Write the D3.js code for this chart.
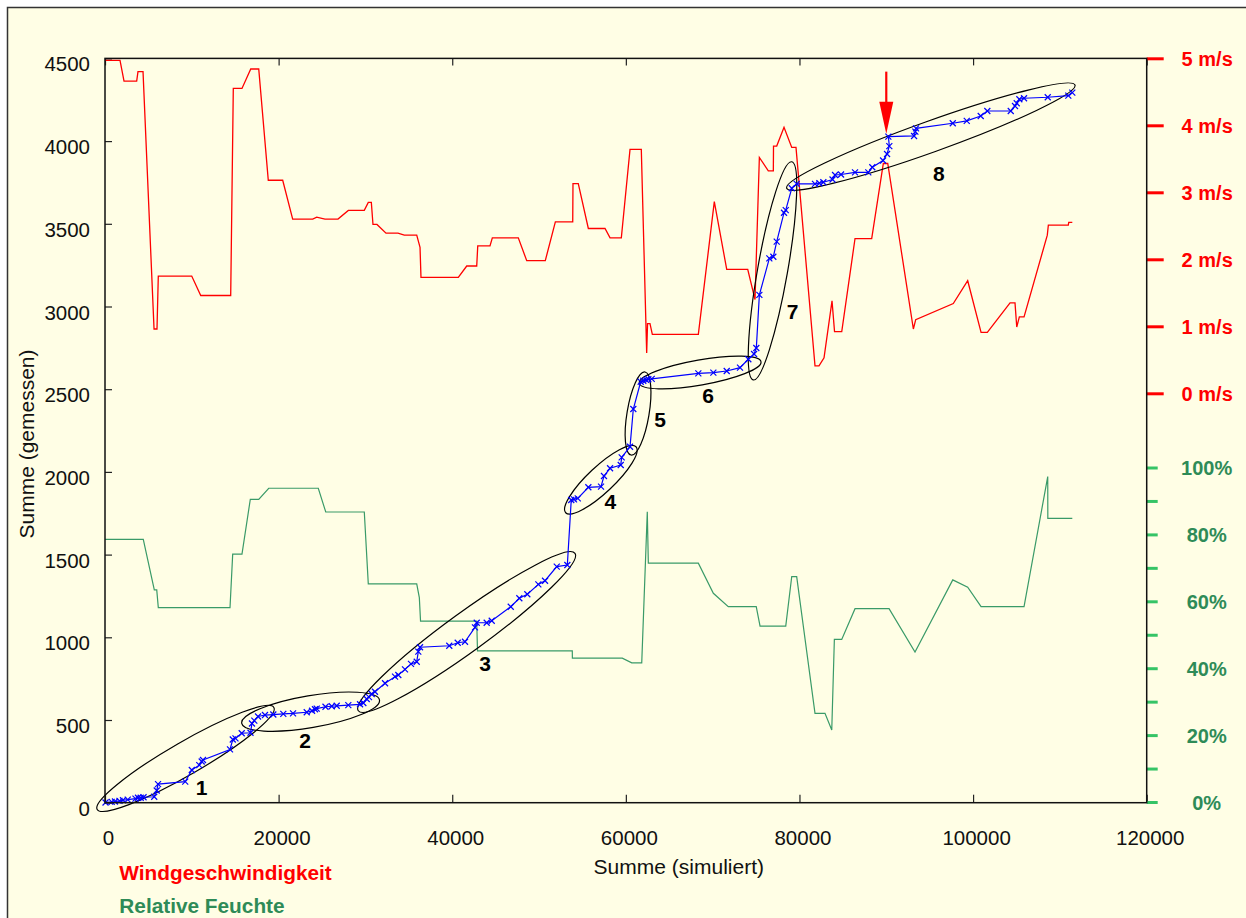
<!DOCTYPE html>
<html>
<head>
<meta charset="utf-8">
<script src="https://cdn.jsdelivr.net/npm/d3@7"></script>
<style>
  html, body { margin: 0; padding: 0; background: #ffffff; }
  svg { display: block; }
  text { font-family: "Liberation Sans", Arial, Helvetica, sans-serif; }
</style>
</head>
<body>
<svg id="chart" width="1246" height="918"></svg>
<script>
// ---- Wind speed (m/s) over the simulated cumulative sum ----
const windSum = [0, 1730, 2190, 3650, 3800, 4380, 5650, 5990, 6140, 9990, 11030, 14480, 14780, 15780, 16790, 17710,
  18810, 20470, 21620, 23930, 24390, 25340, 26840, 28030, 29870, 30330, 30680, 30870, 31330, 32370, 33750, 34480,
  35910, 36290, 36400, 40700, 41670, 42820, 42940, 44350, 44620, 47610, 48580, 50720, 51880, 53880, 53910, 54520,
  55680, 57600, 58180, 59480, 60480, 61780, 62400, 62500, 62780, 63050, 68350, 70190, 71620, 74040, 74880, 75380,
  76410, 76990, 77010, 77380, 78220, 79110, 79600, 81790, 82250, 82830, 83750, 84040, 84870, 86400, 88320, 89660,
  90170, 93120, 93390, 97720, 99380, 100920, 101640, 104260, 104830, 105030, 105330, 105870, 108550, 108670,
  110970, 111020, 111430];
const windSpeed = [4.97, 4.97, 4.66, 4.66, 4.80, 4.80, 0.96, 0.96, 1.75, 1.75, 1.46, 1.46, 4.55, 4.55, 4.84, 4.84,
  3.18, 3.18, 2.60, 2.60, 2.63, 2.60, 2.60, 2.73, 2.73, 2.85, 2.85, 2.52, 2.52, 2.39, 2.39, 2.36,
  2.36, 2.18, 1.73, 1.73, 1.90, 1.90, 2.20, 2.20, 2.32, 2.32, 1.98, 1.98, 2.56, 2.56, 3.13, 3.13,
  2.46, 2.46, 2.32, 2.32, 3.64, 3.64, 0.60, 1.04, 1.04, 0.88, 0.88, 2.86, 1.85, 1.85, 1.40, 3.52,
  3.32, 3.32, 3.69, 3.69, 3.97, 3.67, 3.67, 0.41, 0.41, 0.53, 1.38, 0.92, 0.92, 2.31, 2.31, 3.43,
  3.43, 0.96, 1.10, 1.34, 1.68, 0.91, 0.91, 1.35, 1.35, 0.99, 1.14, 1.14, 2.36, 2.51,
  2.51, 2.55, 2.55];

// ---- Relative humidity (%) over the simulated cumulative sum ----
const humSum = [0, 4410, 5680, 5960, 6140, 14400, 14710, 15780, 16740, 17710, 18860, 24570, 25430, 29870, 30330,
  35910, 36210, 36350, 42820, 42910, 53830, 53840, 59590, 60680, 61830, 62470, 62590, 68350, 70080, 71800, 75020,
  75460, 78420, 79110, 79680, 81790, 82940, 83720, 84020, 84870, 86400, 90320, 93310, 97660, 99380, 100920,
  105870, 108600, 108610, 111430];
const humidity = [78.5, 78.5, 63.4, 63.4, 58.1, 58.1, 74.1, 74.1, 90.5, 90.5, 93.8, 93.8, 86.7, 86.7, 65.2,
  65.2, 61.1, 54.1, 54.1, 45.2, 45.2, 43.0, 43.0, 41.6, 41.6, 86.8, 71.4, 71.4, 62.4, 58.4, 58.4,
  52.6, 52.6, 67.4, 67.4, 26.5, 26.5, 21.5, 48.6, 48.6, 57.8, 57.8, 44.8, 66.4, 64.2, 58.4,
  58.4, 97.3, 84.8, 84.8];

// ---- Simulated vs. measured cumulative sums ----
const simSum = [60, 770, 1150, 1670, 2070, 2620, 3510, 3800, 4110, 4440,
  5670, 5960, 6110, 9240, 10000, 10860, 11140, 11290, 14400, 14720,
  15030, 15750, 16760, 16930, 17200, 17630, 18430, 19390, 20540, 21660,
  23240, 23850, 24190, 24390, 25400, 26120, 26690, 28030, 29380, 29760,
  30150, 30410, 30720, 31100, 32260, 33410, 33790, 34560, 35250, 35910,
  36090, 36290, 39660, 40630, 41470, 42620, 42820, 43970, 44550, 46740,
  47730, 48650, 49920, 50690, 52040, 53260, 53710, 54030, 54460, 55680,
  57140, 57480, 58180, 59410, 59520, 60480, 60860, 61710, 62010, 62320,
  62590, 62980, 68350, 70080, 71620, 73150, 74110, 74770, 75030, 75380,
  76530, 76990, 77380, 78220, 78420, 79110, 79680, 81790, 82290, 82750,
  83810, 84100, 84790, 86400, 87930, 88390, 89630, 90090, 90350, 90240,
  93200, 93350, 93430, 97660, 99270, 100880, 101640, 104340, 104830, 105030,
  105330, 105870, 108600, 110970, 111430];
const measSum = [1, 5, 7, 11, 15, 19, 25, 30, 30, 33,
  36, 74, 112, 127, 198, 227, 249, 258, 322, 382,
  389, 420, 423, 479, 496, 521, 530, 533, 537, 540,
  547, 556, 565, 569, 580, 583, 586, 590, 595, 603,
  627, 638, 657, 671, 722, 762, 772, 806, 839, 852,
  913, 940, 949, 967, 973, 1060, 1088, 1088, 1100, 1185,
  1236, 1260, 1320, 1342, 1427, 1437, 1830, 1834, 1840, 1907,
  1911, 1975, 2022, 2042, 2088, 2152, 2380, 2545, 2551, 2556,
  2560, 2562, 2596, 2600, 2610, 2630, 2681, 2713, 2749, 3070,
  3291, 3301, 3392, 3567, 3583, 3715, 3741, 3741, 3745, 3751,
  3768, 3795, 3798, 3811, 3811, 3842, 3883, 3922, 3970, 4027,
  4031, 4057, 4077, 4108, 4122, 4152, 4182, 4182, 4212, 4229,
  4253, 4259, 4265, 4275, 4293];

// ---- Numbered phases: major-axis end points (simulated, measured) and label anchors ----
const phaseLabels = ["1", "2", "3", "4", "5", "6", "7", "8"];
const phaseStart = [[-900, -41], [15750, 480], [29180, 556], [53070, 1753], [60600, 2102], [61550, 2536], [74680, 2556], [78530, 3715]];
const phaseEnd = [[19450, 576], [31620, 621], [54140, 1508], [61170, 2152], [62210, 2604], [75570, 2666], [79110, 3875], [111740, 4339]];
const phaseLabelAt = [[11140, 92], [23040, 379], [43780, 840], [58200, 1824], [63940, 2320], [69470, 2463], [79200, 2971], [96050, 3805]];

// ---- Highlighted moment ----
const markSim = 90000;
const markFrom = 4420;
const markTo = 4045;

// ---- Axis ticks ----
const xTicks = [0, 20000, 40000, 60000, 80000, 100000, 120000];
const yTicks = [0, 500, 1000, 1500, 2000, 2500, 3000, 3500, 4000, 4500];
const windTicks = [0, 1, 2, 3, 4, 5];
const humTicks = [0, 10, 20, 30, 40, 50, 60, 70, 80, 90, 100];
const humLabelTicks = [0, 20, 40, 60, 80, 100];

// ---- Layout & style ----
const W = 1246, H = 918;
const plot = { left: 105, top: 58.4, right: 1146.7, bottom: 802.7 };
const phaseHalfWidth = [16.5, 16, 19.5, 13, 11, 12.5, 15, 15.5];
const RED = "#ff0000";
const GREEN_LINE = "#3a9a68";
const GREEN_TICK = "#35c466";
const GREEN_TEXT = "#2e8b57";
const BLUE = "#0000ff";
const INK = "#111111";

const svg = d3.select("#chart");

// page panel
svg.append("rect")
  .attr("x", 7.5).attr("y", 7.5)
  .attr("width", W).attr("height", H)
  .attr("fill", "#fffee5")
  .attr("stroke", "#333333").attr("stroke-width", 1.5);

const x = d3.scaleLinear().domain([0, 120000]).range([plot.left, plot.right]);
const y = d3.scaleLinear().domain([0, 4500]).range([plot.bottom, plot.top]);
const yWind = d3.scaleLinear().domain([0, 5]).range([393.3, 58.3]);
const yHum = d3.scaleLinear().domain([0, 100]).range([802, 467.5]);

// ---- axes ----
const gLeft = svg.append("g")
  .attr("transform", `translate(${plot.left},0)`)
  .call(d3.axisLeft(y).tickValues(yTicks).tickSize(-7).tickSizeOuter(0).tickPadding(15).tickFormat(d3.format("d")));
gLeft.select(".domain").remove();
gLeft.selectAll("line").attr("stroke", "#222").attr("stroke-width", 1.2);
gLeft.selectAll("text").attr("y", 6).attr("fill", INK).style("font-size", "20.5px");

const gBottom = svg.append("g")
  .attr("transform", `translate(0,${plot.bottom})`)
  .call(d3.axisBottom(x).tickValues(xTicks).tickSize(-8).tickSizeOuter(0).tickPadding(27.7).tickFormat(d3.format("d")));
gBottom.select(".domain").remove();
gBottom.selectAll("line").attr("stroke", "#222").attr("stroke-width", 1.2);
gBottom.selectAll("text").attr("x", 3).attr("fill", INK).style("font-size", "20.5px");

const gTop = svg.append("g")
  .attr("transform", `translate(0,${plot.top})`)
  .call(d3.axisTop(x).tickValues(xTicks).tickSize(-7).tickSizeOuter(0).tickFormat(""));
gTop.select(".domain").remove();
gTop.selectAll("line").attr("stroke", "#222").attr("stroke-width", 1.2);

const gWind = svg.append("g")
  .attr("transform", `translate(${plot.right},0)`)
  .call(d3.axisRight(yWind).tickValues(windTicks).tickSize(17).tickSizeOuter(0).tickFormat(d => `${d} m/s`));
gWind.select(".domain").remove();
gWind.selectAll("line").attr("stroke", RED).attr("stroke-width", 3);
gWind.selectAll("text")
  .attr("x", 60.5).attr("dy", "0.36em").attr("text-anchor", "middle")
  .attr("fill", RED).style("font-size", "20px").style("font-weight", "bold");

const gHum = svg.append("g")
  .attr("transform", `translate(${plot.right},0)`)
  .call(d3.axisRight(yHum).tickValues(humTicks).tickSize(11).tickSizeOuter(0)
    .tickFormat(d => humLabelTicks.includes(d) ? `${d}%` : ""));
gHum.select(".domain").remove();
gHum.selectAll("line").attr("stroke", GREEN_TICK).attr("stroke-width", 3);
gHum.selectAll("text")
  .attr("x", 60).attr("dy", "0.36em").attr("text-anchor", "middle")
  .attr("fill", GREEN_TEXT).style("font-size", "20px").style("font-weight", "bold");

// ---- humidity and wind traces ----
const humLine = d3.line().x(d => x(d[0])).y(d => yHum(d[1]));
svg.append("path")
  .datum(humSum.map((s, i) => [s, humidity[i]]))
  .attr("d", humLine)
  .attr("fill", "none").attr("stroke", GREEN_LINE).attr("stroke-width", 1.2);

const windLine = d3.line().x(d => x(d[0])).y(d => yWind(d[1]));
svg.append("path")
  .datum(windSum.map((s, i) => [s, windSpeed[i]]))
  .attr("d", windLine)
  .attr("fill", "none").attr("stroke", RED).attr("stroke-width", 1.3);

// ---- phase ellipses ----
const phases = phaseLabels.map((label, i) => {
  const x0 = x(phaseStart[i][0]), y0 = y(phaseStart[i][1]);
  const x1 = x(phaseEnd[i][0]), y1 = y(phaseEnd[i][1]);
  return {
    label,
    cx: (x0 + x1) / 2, cy: (y0 + y1) / 2,
    rx: Math.hypot(x1 - x0, y1 - y0) / 2,
    ry: phaseHalfWidth[i],
    angle: Math.atan2(y1 - y0, x1 - x0) * 180 / Math.PI,
    lx: x(phaseLabelAt[i][0]), ly: y(phaseLabelAt[i][1])
  };
});
svg.append("g").selectAll("ellipse")
  .data(phases).join("ellipse")
  .attr("transform", d => `translate(${d.cx},${d.cy}) rotate(${d.angle})`)
  .attr("rx", d => d.rx).attr("ry", d => d.ry)
  .attr("fill", "none").attr("stroke", "#000").attr("stroke-width", 1.2);

// ---- simulated vs measured ----
const sumPts = simSum.map((s, i) => [s, measSum[i]]);
svg.append("path")
  .datum(sumPts)
  .attr("d", d3.line().x(d => x(d[0])).y(d => y(d[1])))
  .attr("fill", "none").attr("stroke", BLUE).attr("stroke-width", 1.2);
svg.append("g").selectAll("path")
  .data(sumPts).join("path")
  .attr("transform", d => `translate(${x(d[0])},${y(d[1])})`)
  .attr("d", "M-3,-3L3,3M-3,3L3,-3")
  .attr("stroke", BLUE).attr("stroke-width", 1.2).attr("fill", "none");

// phase numbers
svg.append("g").selectAll("text")
  .data(phases).join("text")
  .attr("x", d => d.lx).attr("y", d => d.ly).attr("dy", "0.36em")
  .attr("text-anchor", "middle")
  .attr("fill", "#000").style("font-size", "21px").style("font-weight", "bold")
  .text(d => d.label);

// ---- arrow on the highlighted moment ----
const ax = x(markSim), aTop = y(markFrom), aTip = y(markTo);
const headLen = 32, headHalf = 7;
svg.append("line")
  .attr("x1", ax).attr("x2", ax).attr("y1", aTop).attr("y2", aTip - headLen + 2)
  .attr("stroke", RED).attr("stroke-width", 2.2);
svg.append("path")
  .attr("d", `M${ax - headHalf},${aTip - headLen}L${ax + headHalf},${aTip - headLen}L${ax},${aTip}Z`)
  .attr("fill", RED);

// ---- plot frame ----
svg.append("rect")
  .attr("x", plot.left).attr("y", plot.top)
  .attr("width", plot.right - plot.left).attr("height", plot.bottom - plot.top)
  .attr("fill", "none").attr("stroke", "#111").attr("stroke-width", 1.5);

// ---- axis titles ----
svg.append("text")
  .attr("x", 678.8).attr("y", 874)
  .attr("text-anchor", "middle").attr("fill", INK).style("font-size", "21px")
  .text("Summe (simuliert)");
svg.append("text")
  .attr("transform", "translate(34.3,444) rotate(-90)")
  .attr("text-anchor", "middle").attr("fill", INK).style("font-size", "21px")
  .text("Summe (gemessen)");

// ---- legend ----
svg.append("text")
  .attr("x", 119.3).attr("y", 879.5)
  .attr("fill", RED).style("font-size", "20.8px").style("font-weight", "bold")
  .text("Windgeschwindigkeit");
svg.append("text")
  .attr("x", 119.3).attr("y", 913)
  .attr("fill", GREEN_TEXT).style("font-size", "20.8px").style("font-weight", "bold")
  .text("Relative Feuchte");
</script>
</body>
</html>
